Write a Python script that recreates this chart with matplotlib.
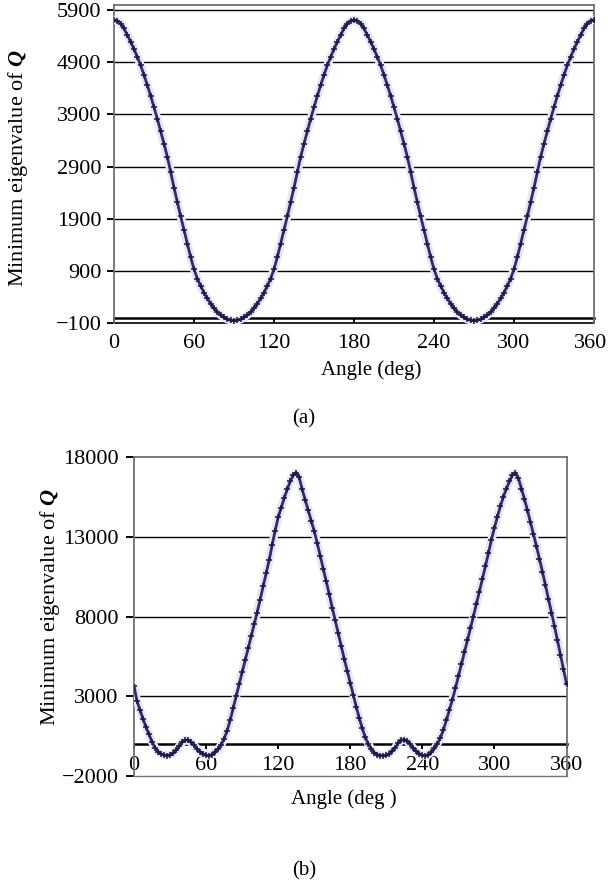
import matplotlib
matplotlib.use('Agg')
import matplotlib.pyplot as plt
import matplotlib.transforms as mtransforms
import numpy as np

plt.rcParams['font.family'] = ['Liberation Serif', 'DejaVu Serif']
plt.rcParams['mathtext.fontset'] = 'custom'
plt.rcParams['mathtext.rm'] = 'Liberation Serif'
plt.rcParams['mathtext.it'] = 'Liberation Serif:italic'
plt.rcParams['mathtext.bf'] = 'Liberation Serif:bold:italic'

# ---------------- data ----------------
angle = np.arange(0, 360.01, 2.5)

eig_a = [5710, 5690, 5640, 5545, 5420, 5290, 5150, 5000, 4840, 4655, 4460, 4255,
         4040, 3815, 3580, 3340, 3090, 2800, 2500, 2225, 1950, 1690, 1430, 1170,
         940, 760, 620, 490, 380, 280, 190, 120, 60, 15, -20, -40, -45,
         -40, -20, 15, 60, 120, 190, 280, 380, 490, 620, 760, 940, 1170, 1430,
         1690, 1950, 2225, 2500, 2800, 3090, 3340, 3580, 3815, 4040, 4255, 4460,
         4655, 4840, 5000, 5150, 5290, 5420, 5545, 5640, 5690, 5710,
         5690, 5640, 5545, 5420, 5290, 5150, 5000, 4840, 4655, 4460, 4255,
         4040, 3815, 3580, 3340, 3090, 2800, 2500, 2225, 1950, 1690, 1430, 1170,
         940, 760, 620, 490, 380, 280, 190, 120, 60, 15, -20, -40, -45,
         -40, -20, 15, 60, 120, 190, 280, 380, 490, 620, 760, 940, 1170, 1430,
         1690, 1950, 2225, 2500, 2800, 3090, 3340, 3580, 3815, 4040, 4255, 4460,
         4655, 4840, 5000, 5150, 5290, 5420, 5545, 5640, 5690, 5710]

eig_b = [3650, 2700, 2150, 1600, 1080, 620, 160, -220, -450, -600, -680, -700,
         -660, -550, -380, -130, 120, 260, 270, 130, -60, -280, -470, -610,
         -690, -700, -640, -500, -300, -50, 350, 850, 1500, 2250, 3000, 3750,
         4500, 5250, 6000, 6750, 7500, 8250, 9050, 9880, 10700, 11520, 12480, 13380,
         14200, 14800, 15400, 15950, 16450, 16850, 17000, 16700, 15950, 15300, 14650, 14000,
         13350, 12600, 11800, 11000, 10200, 9400, 8550, 7750, 6950, 6150, 5350, 4600,
         3850, 3100, 2350, 1650, 1000, 450, 30, -300, -520, -640, -700, -710,
         -690, -600, -430, -200, 80, 260, 300, 200, 0, -230, -440, -600,
         -690, -710, -650, -500, -260, 30, 400, 900, 1500, 2150, 2800, 3500,
         4250, 5000, 5750, 6500, 7250, 8000, 8780, 9560, 10350, 11150, 11950, 12800,
         13550, 14250, 14900, 15500, 16000, 16450, 16850, 16980, 16650, 16000, 15350, 14650,
         13900, 13150, 12400, 11600, 10800, 9950, 9100, 8250, 7400, 6500, 5600, 4700,
         3800]

xticks = [0, 60, 120, 180, 240, 300, 360]
yticks_a = [-100, 900, 1900, 2900, 3900, 4900, 5900]
yticks_b = [-2000, 3000, 8000, 13000, 18000]

# ---------------- figure ----------------
W, H = 608, 884
fig = plt.figure(figsize=(W / 100, H / 100), dpi=100)

FS = 16
FS2 = 15
LINE = '#2c2c6e'
HALO = '#e6e6f1'
SPINE = '#707070'


def px_axes(l, t, r, b):
    return fig.add_axes([l / W, 1 - b / H, (r - l) / W, (b - t) / H])


def style(ax, ylim, yticks, grid_vals, bottom_grid):
    ax.set_xlim(0, 360)
    ax.set_ylim(*ylim)
    ax.set_xticks(xticks)
    ax.set_yticks(yticks)
    ax.set_yticklabels(['\u2212' + str(-v) if v < 0 else str(v) for v in yticks])
    for v in grid_vals:
        ax.axhline(v, color='black', lw=1.0, zorder=1)
    if bottom_grid:
        ax.axhline(ylim[0], color='black', lw=1.2, zorder=1, clip_on=False)
    else:
        ax.axhline(ylim[0], color=SPINE, lw=1.0, zorder=1, clip_on=False)
    ax.spines['bottom'].set_position(('data', 0))
    ax.spines['bottom'].set_color('black')
    ax.spines['bottom'].set_linewidth(1.8)
    ax.spines['bottom'].set_zorder(2)
    for s in ['left', 'top', 'right']:
        ax.spines[s].set_color(SPINE)
        ax.spines[s].set_linewidth(1.3)
    ax.tick_params(axis='y', direction='out', length=5, width=1.4, color='black',
                   pad=4, labelsize=FS)
    ax.tick_params(axis='x', direction='out', length=3.5, width=1.4, color='black',
                   labelsize=FS)


def draw(ax, y):
    ax.plot(angle, y, color=HALO, lw=6, solid_capstyle='round', zorder=3)
    ax.plot(angle, y, color=LINE, lw=2.0, zorder=4)
    ax.plot(angle, y, ls='none', marker='+', ms=4.5, mew=1.1, color='#1a1a4a', zorder=5)


# panel (a)
axa = px_axes(114, 4.7, 594, 323.5)
style(axa, (-100, 6000), yticks_a, yticks_a[1:], True)
axa.tick_params(axis='x', pad=8)
draw(axa, eig_a)
# keep the last tick label inside the picture
last = axa.get_xticklabels()[-1]
last.set_transform(last.get_transform() +
                   mtransforms.ScaledTranslation(-3 / 100, 0, fig.dpi_scale_trans))

# panel (b)
axb = px_axes(134, 456.7, 566.5, 776.3)
style(axb, (-2000, 18000), yticks_b, [3000, 8000, 13000], False)
axb.tick_params(axis='x', pad=5)
axb.tick_params(axis='y', pad=5, length=6)
draw(axb, eig_b)

ylab = 'Minimum eigenvalue of $\\mathbf{Q}$'
fig.text(18 / W, 1 - 168 / H, ylab, rotation=90, ha='center', va='center', fontsize=FS)
fig.text(50 / W, 1 - 607 / H, ylab, rotation=90, ha='center', va='center', fontsize=FS)

fig.text(371 / W, 1 - 370 / H, 'Angle (deg)', ha='center', va='center', fontsize=FS2)
fig.text(344 / W, 1 - 799 / H, 'Angle (deg )', ha='center', va='center', fontsize=FS2)

fig.text(304 / W, 1 - 419 / H, '(a)', ha='center', va='center', fontsize=FS2)
fig.text(304 / W, 1 - 871 / H, '(b)', ha='center', va='center', fontsize=FS2)

fig.savefig('out.png', dpi=100)
